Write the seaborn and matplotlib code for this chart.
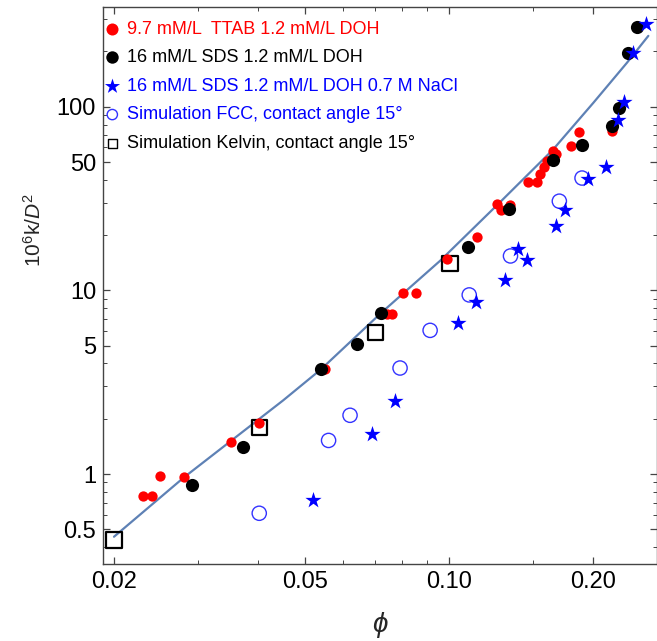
import numpy as np
import pandas as pd
import matplotlib
matplotlib.use('Agg')
import matplotlib.pyplot as plt
import seaborn as sns
from matplotlib.ticker import FixedLocator, FixedFormatter, NullFormatter

sns.set_theme(style="ticks")
plt.rcParams['font.family'] = ['Liberation Sans', 'DejaVu Sans']
plt.rcParams['mathtext.fontset'] = 'custom'
plt.rcParams['mathtext.rm'] = 'Liberation Sans'
plt.rcParams['mathtext.it'] = 'Liberation Sans:italic'

# ---- data ----
# 9.7 mM/L TTAB 1.2 mM/L DOH (red)
ttab_phi = [0.0230, 0.0240, 0.0250, 0.0280, 0.0351, 0.0402, 0.0538, 0.0551, 0.0743, 0.0760,
            0.0804, 0.0852, 0.0990, 0.1145, 0.1261, 0.1282, 0.1342, 0.1466, 0.1528, 0.1548,
            0.1580, 0.1601, 0.1646, 0.1677, 0.1799, 0.1873, 0.2190]
ttab_k = [0.76, 0.76, 0.975, 0.96, 1.50, 1.90, 3.75, 3.75, 7.47, 7.47,
          9.72, 9.72, 14.9, 19.5, 29.6, 27.5, 29.1, 38.8, 38.8, 43.0,
          46.8, 50.4, 57.6, 55.1, 61.4, 73.1, 74.1]

# 16 mM/L SDS 1.2 mM/L DOH (black)
sds_phi = [0.0291, 0.0371, 0.0541, 0.0642, 0.0723, 0.1094, 0.1334, 0.1652, 0.1894, 0.2192,
           0.2270, 0.2366, 0.2472]
sds_k = [0.868, 1.397, 3.72, 5.13, 7.56, 17.2, 27.7, 51.3, 62.1, 78.8,
         98.4, 197, 272]

# 16 mM/L SDS 1.2 mM/L DOH 0.7 M NaCl (blue stars)
nacl_phi = [0.0521, 0.0692, 0.0772, 0.1044, 0.1138, 0.1313, 0.1392, 0.1459, 0.1677, 0.1752,
            0.1948, 0.2129, 0.2250, 0.2324, 0.2424, 0.2580]
nacl_k = [0.722, 1.65, 2.50, 6.62, 8.64, 11.33, 16.85, 14.6, 22.4, 27.3,
          40.5, 47.2, 84.7, 105.5, 195, 281]

# Simulation FCC (open circles)
fcc_phi = [0.0402, 0.0561, 0.0622, 0.0791, 0.0914, 0.1103, 0.1345, 0.1701, 0.1897]
fcc_k = [0.612, 1.525, 2.09, 3.78, 6.06, 9.45, 15.4, 30.6, 40.9]

# Simulation Kelvin (open squares)
kelvin_phi = [0.020, 0.0402, 0.0702, 0.1006]
kelvin_k = [0.438, 1.80, 5.91, 13.97]

# fitted curve
curve_phi = [0.0200, 0.0280, 0.0451, 0.0541, 0.0723, 0.0959, 0.1269, 0.1648, 0.2003, 0.2352, 0.2609]
curve_k = [0.456, 0.96, 2.52, 3.72, 7.56, 14.5, 29.6, 58.2, 105, 173, 243]

labels = ['9.7 mM/L  TTAB 1.2 mM/L DOH',
          '16 mM/L SDS 1.2 mM/L DOH',
          '16 mM/L SDS 1.2 mM/L DOH 0.7 M NaCl',
          'Simulation FCC, contact angle 15\u00b0',
          'Simulation Kelvin, contact angle 15\u00b0']

# ---- figure ----
fig = plt.figure(figsize=(6.57, 6.41), dpi=100)
ax = fig.add_axes([103 / 657, 77 / 641, 554 / 657, 557 / 641])
ax.set_xscale('log')
ax.set_yscale('log')

sns.lineplot(x=curve_phi, y=curve_k, ax=ax, color='#5E81B5', linewidth=1.6, zorder=2)

sns.scatterplot(x=ttab_phi, y=ttab_k, ax=ax, color='#ff0000', s=55, linewidth=0,
                marker='o', label=labels[0], zorder=5)
sns.scatterplot(x=sds_phi, y=sds_k, ax=ax, color='black', s=90, linewidth=0,
                marker='o', label=labels[1], zorder=6)
sns.scatterplot(x=nacl_phi, y=nacl_k, ax=ax, color='#0000ff', s=150, linewidth=0,
                marker='*', label=labels[2], zorder=7)
sns.scatterplot(x=fcc_phi, y=fcc_k, ax=ax, facecolor='none', edgecolor='#3333ff', s=105,
                linewidth=1.0, marker='o', label=labels[3], zorder=3)
sns.scatterplot(x=kelvin_phi, y=kelvin_k, ax=ax, facecolor='none', edgecolor='black', s=120,
                linewidth=1.6, marker='s', label=labels[4], zorder=4)

ax.set_xlim(0.01897, 0.272)
ax.set_ylim(0.324, 349)

# ticks in Mathematica frame style
ax.xaxis.set_major_locator(FixedLocator([0.02, 0.05, 0.10, 0.20]))
ax.xaxis.set_major_formatter(FixedFormatter(['0.02', '0.05', '0.10', '0.20']))
ax.xaxis.set_minor_locator(FixedLocator([0.03, 0.04, 0.06, 0.07, 0.08, 0.09, 0.15]))
ax.xaxis.set_minor_formatter(NullFormatter())

y_major = [0.5, 1, 5, 10, 50, 100]
y_minor = [0.4, 0.6, 0.7, 0.8, 0.9, 2, 3, 4, 6, 7, 8, 9, 20, 30, 40, 60, 70, 80, 90, 200, 300]
ax.yaxis.set_major_locator(FixedLocator(y_major))
ax.yaxis.set_major_formatter(FixedFormatter(['0.5', '1', '5', '10', '50', '100']))
ax.yaxis.set_minor_locator(FixedLocator(y_minor))
ax.yaxis.set_minor_formatter(NullFormatter())

ax.tick_params(which='both', direction='in', top=True, right=True, color='#444444',
               labelsize=17, labelcolor='black', pad=5)
ax.tick_params(which='major', length=5, width=0.9)
ax.tick_params(which='minor', length=3, width=0.7)
for sp in ax.spines.values():
    sp.set_color('#444444')
    sp.set_linewidth(1.0)

ax.set_xlabel(r'$\phi$', fontsize=20, labelpad=12)
ax.set_ylabel(r'$10^6\mathrm{k}/D^2$', fontsize=15)
ax.yaxis.set_label_coords(-0.105, 0.6)

leg = ax.legend(loc='upper left', bbox_to_anchor=(-0.006, 0.982), frameon=False, fontsize=13,
                labelcolor=['#ff0000', 'black', '#0000ff', '#0000ff', 'black'],
                handletextpad=0.3, handlelength=1.0, labelspacing=0.64, borderpad=0.2,
                borderaxespad=0.0)
hs = leg.legend_handles
hs[0].set_sizes([75])
hs[1].set_sizes([80])
hs[2].set_sizes([130])
hs[3].set_sizes([55])
hs[4].set_sizes([40])
hs[4].set_linewidth(1.0)

fig.savefig('out.png', dpi=100)
